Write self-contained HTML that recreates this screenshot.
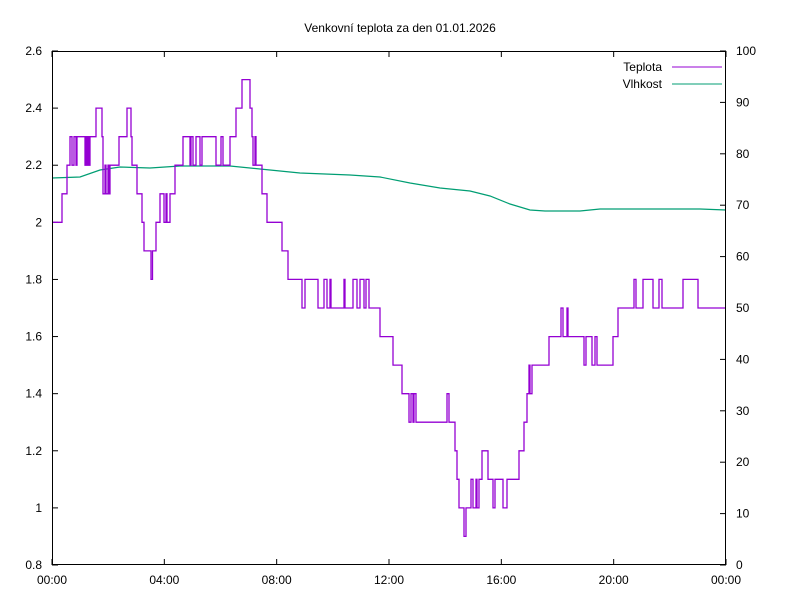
<!DOCTYPE html>
<html><head><meta charset="utf-8"><style>
html,body{margin:0;padding:0;background:#fff}
svg text{font-family:"Liberation Sans",sans-serif;font-size:12px;fill:#000}
</style></head><body>
<svg id="s" width="800" height="600" xmlns="http://www.w3.org/2000/svg">
<rect width="800" height="600" fill="#fff"/>
<text x="400" y="32" text-anchor="middle">Venkovní teplota za den 01.01.2026</text>
<g id="ax" stroke="#000" stroke-width="1" fill="none"></g>
<g id="lb"></g>
<path id="hum" fill="none" stroke="#009e73" stroke-width="1.2"/>
<path id="tmp" fill="none" stroke="#9400d3" stroke-width="1.3"/>
<rect x="52.5" y="51.5" width="673" height="513" fill="none" stroke="#000"/>
<text x="662" y="71" text-anchor="end">Teplota</text>
<line x1="672" y1="67" x2="722" y2="67" stroke="#9400d3"/>
<text x="662" y="88" text-anchor="end">Vlhkost</text>
<line x1="672" y1="84" x2="722" y2="84" stroke="#009e73"/>
</svg>
<script>
var L=52,R=726,T=51,B=565;
function yv(v){return B-(v-0.8)/1.8*(B-T);}
function yh(h){return B-h/100*(B-T);}
var ax="",lb="";
for(var i=0;i<=9;i++){var v=0.8+i*0.2,y=yv(v);ax+='<line x1="'+L+'" y1="'+y+'" x2="'+(L+6)+'" y2="'+y+'"/>';
lb+='<text x="'+(L-10)+'" y="'+(y+4)+'" text-anchor="end">'+(Math.round(v*10)/10)+'</text>';}
for(var i=0;i<=10;i++){var y=yh(i*10);ax+='<line x1="'+R+'" y1="'+y+'" x2="'+(R-6)+'" y2="'+y+'"/>';
lb+='<text x="'+(R+10)+'" y="'+(y+4)+'">'+(i*10)+'</text>';}
for(var i=0;i<=6;i++){var x=L+i*(R-L)/6;ax+='<line x1="'+x+'" y1="'+B+'" x2="'+x+'" y2="'+(B-6)+'"/><line x1="'+x+'" y1="'+T+'" x2="'+x+'" y2="'+(T+6)+'"/>';
var h=(i*4)%24;lb+='<text x="'+x+'" y="'+(B+19)+'" text-anchor="middle">'+(h<10?'0':'')+h+':00</text>';}
document.getElementById('ax').innerHTML=ax;document.getElementById('lb').innerHTML=lb;
var st=[[52,2.0],[62,2.1],[67,2.2],[70,2.3],[72,2.2],[74,2.3],[76,2.2],[77,2.3],[85,2.2],[86,2.3],[87,2.2],[88,2.3],[89,2.2],[90,2.3],[96,2.4],[102,2.3],[103,2.1],[105,2.2],[106,2.1],[108,2.2],[109,2.1],[110,2.2],[119,2.3],[127,2.4],[131,2.3],[132,2.2],[137,2.1],[142,2.0],[144,1.9],[151,1.8],[152.5,1.9],[156,2.0],[160,2.1],[164,2.0],[166,2.1],[167,2.0],[170,2.1],[175,2.2],[183,2.3],[190,2.2],[191,2.3],[193,2.2],[196,2.3],[200,2.2],[202,2.3],[216,2.2],[221,2.3],[223,2.2],[230,2.3],[236,2.4],[242,2.5],[250,2.4],[252,2.3],[253,2.2],[255,2.3],[256,2.2],[257,2.2],[262,2.1],[267,2.0],[282,1.9],[288,1.8],[302,1.7],[305,1.8],[318,1.7],[324,1.8],[327,1.7],[330,1.8],[331,1.7],[344,1.8],[345,1.7],[353,1.8],[357,1.7],[360,1.8],[364,1.7],[366,1.8],[369,1.7],[380,1.6],[393,1.5],[402,1.4],[409,1.3],[411,1.4],[413,1.3],[414,1.4],[416,1.3],[447,1.4],[449,1.3],[455,1.2],[457,1.1],[459,1.0],[464,0.9],[466,1.0],[471,1.1],[473,1.0],[476,1.1],[477,1.0],[479,1.1],[482,1.2],[488,1.1],[493,1.0],[495,1.1],[503,1.0],[507,1.1],[519,1.2],[524,1.3],[527,1.4],[529,1.5],[530,1.4],[532,1.5],[549,1.6],[553,1.6],[561,1.7],[563,1.6],[567,1.7],[568,1.6],[584,1.5],[586,1.6],[592,1.5],[595,1.6],[597,1.5],[613,1.6],[618,1.7],[634,1.8],[636,1.7],[643,1.8],[653,1.7],[659,1.8],[662,1.7],[683,1.8],[698,1.7],[726,1.7]];
var d='M'+st[0][0]+' '+yv(st[0][1]);
for(var i=1;i<st.length;i++){d+=' H'+st[i][0]+' V'+yv(st[i][1]).toFixed(1);}
document.getElementById('tmp').setAttribute('d',d);
var hp=[[52,178],[80,177],[100,170],[120,167],[150,168],[180,166],[230,166],[260,169],[300,173],[350,175],[380,177],[410,183],[440,188],[470,191],[490,196],[510,204],[530,210],[545,211],[580,211],[600,209],[650,209],[700,209],[726,210]];
var h2='M'+hp[0][0]+' '+hp[0][1];
for(var i=1;i<hp.length;i++){h2+=' L'+hp[i][0]+' '+hp[i][1];}
document.getElementById('hum').setAttribute('d',h2);
</script>
</body></html>
